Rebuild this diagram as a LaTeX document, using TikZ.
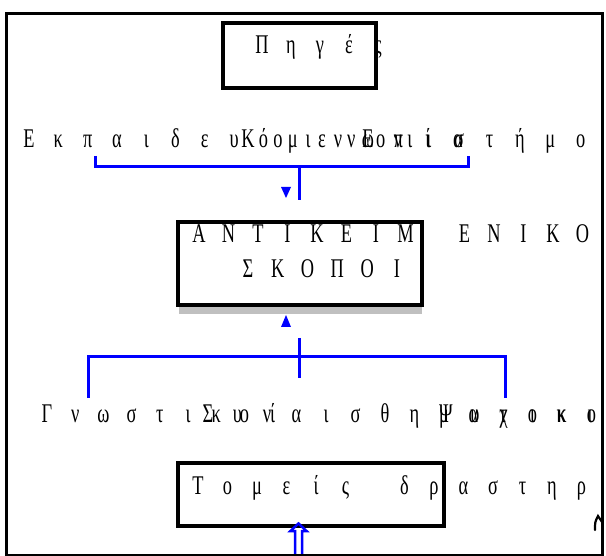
\documentclass[tikz,border=0pt]{standalone}
\usepackage{fontspec}
\setmainfont{Liberation Serif}[FakeStretch=0.68]
\usetikzlibrary{arrows.meta}
\definecolor{wblue}{RGB}{0,0,255}
\definecolor{shadowgrey}{RGB}{192,192,192}
\makeatletter
\newcommand\spacedtext[2]{\def\spc@w{#1}\spc@loop#2\spc@end}
\def\spc@end{\spc@end}
\def\spc@loop#1{\ifx#1\spc@end\else\makebox[\spc@w][c]{#1}\expandafter\spc@loop\fi}
\makeatother
\begin{document}
\begin{tikzpicture}[x=1pt,y=-1pt,
  txt/.style={anchor=base west, inner sep=0pt, outer sep=0pt, font=\fontsize{27pt}{31pt}\selectfont},
  blk/.style={draw=black, line width=3.5pt, anchor=north west, inner sep=0pt, outer sep=0pt},
  conn/.style={draw=wblue, line width=3pt},
  tri/.style={fill=wblue},
]
\useasboundingbox (0,0) rectangle (606,556);
\clip (0,0) rectangle (606,556);
% boxes
\fill[shadowgrey] (179,306) rectangle (422,314);
\node[blk, minimum width=153pt, minimum height=65pt] (srcbox) at (223,23) {};
\node[blk, minimum width=244pt, minimum height=83pt] (objbox) at (178,222) {};
\node[blk, minimum width=266pt, minimum height=63pt] (dombox) at (178,463) {};
% upper bracket
\coordinate (b1l) at (95,156);
\coordinate (b1lc) at (95,167);
\coordinate (b1rc) at (468,167);
\coordinate (b1r) at (468,156);
\coordinate (b1m) at (299,167);
\coordinate (b1s) at (299,200);
\draw[conn] (b1l) -- (b1lc) -- (b1rc) -- (b1r);
\draw[conn] (b1m) -- (b1s);
\fill[tri] (281,187) -- (291,187) -- (286,198) -- cycle;
% up arrow head under objectives box
\fill[tri] (281,327) -- (291,327) -- (286,315) -- cycle;
% lower bracket
\coordinate (b2l) at (88,398);
\coordinate (b2lc) at (88,357);
\coordinate (b2rc) at (505,357);
\coordinate (b2r) at (505,398);
\coordinate (b2t) at (299,338);
\coordinate (b2b) at (299,378);
\draw[conn] (b2l) -- (b2lc) -- (b2rc) -- (b2r);
\draw[conn] (b2t) -- (b2b);
% hollow double arrow
\draw[wblue, line width=2.5pt, line join=miter] (295,560) -- (295,531) -- (290.5,531) -- (298.5,523.5) -- (306.5,531) -- (302,531) -- (302,560);
% texts
\node[txt] (t1) at (247.5,54) {\spacedtext{29pt}{Πηγές}};
\node[txt] (t2a) at (14.4,148) {\spacedtext{29.3pt}{Εκπαιδευόμενοι}};
\node[txt] (t2b) at (233,148) {\spacedtext{30pt}{Κοινωνία}};
\node[txt] (t2c) at (352.8,148) {\spacedtext{30.4pt}{Επιστήμονες}};
\node[txt] (t3a) at (184.25,243) {\spacedtext{29.5pt}{ΑΝΤΙΚΕΙΜ~ΕΝΙΚΟΙ}};
\node[txt] (t3b) at (233.1,278) {\spacedtext{29.8pt}{ΣΚΟΠΟΙ}};
\node[txt] (t4a) at (32.9,423) {\spacedtext{28.2pt}{Γνωστικοί}};
\node[txt] (t4b) at (193.25,423) {\spacedtext{29.5pt}{Συναισθηματικοί}};
\node[txt] (t4c) at (431.6,423) {\spacedtext{28.8pt}{Ψυχοκινητικοί}};
\node[txt] (t5) at (183.25,494) {\spacedtext{29.5pt}{Τομείς~δραστηριότητας}};
% frame
\node[draw=black, line width=3pt, anchor=north west, inner sep=0pt, minimum width=596pt, minimum height=542pt] (frame) at (5,12) {};
\coordinate (hk1) at (595,530);
\coordinate (hk2) at (598,516);
\coordinate (hk3) at (602,522);
\draw[line width=2.2pt, line cap=round] (hk1) .. controls (595,522) .. (hk2) -- (hk3);
\end{tikzpicture}
\end{document}
